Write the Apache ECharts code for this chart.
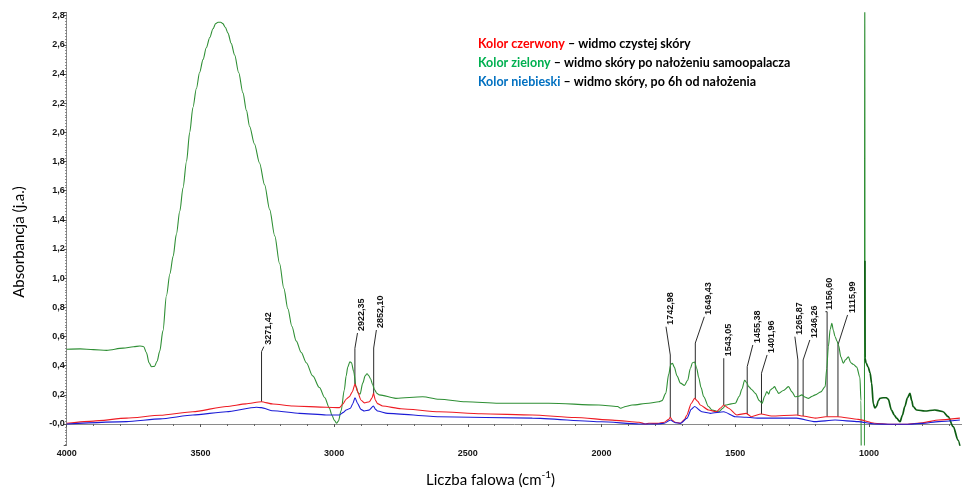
<!DOCTYPE html>
<html>
<head>
<meta charset="utf-8">
<script src="https://cdn.jsdelivr.net/npm/echarts@6/dist/echarts.min.js"></script>
<style>
  html, body { margin: 0; padding: 0; background: #ffffff; }
  #chart { width: 962px; height: 491px; }
</style>
</head>
<body>
<div id="chart"></div>
<script>
// FTIR spectra: [wavenumber (cm-1), absorbance]
const redSpectrum = [
  [4000,0.005],[3900,0.02],[3776,0.04],[3650,0.06],[3528,0.084],[3403,0.12],[3330,0.138],[3272,0.153],
  [3229,0.137],[3154,0.123],[3030,0.115],[2980,0.112],[2968,0.135],[2955,0.17],[2943,0.187],[2932,0.22],
  [2922,0.274],[2912,0.22],[2900,0.165],[2887,0.145],[2868,0.153],[2858,0.18],[2853,0.21],[2846,0.165],
  [2838,0.14],[2819,0.123],[2750,0.105],[2607,0.084],[2450,0.07],[2259,0.062],[2100,0.045],[1950,0.025],
  [1860,0.012],[1835,0.0],[1823,0.005],[1790,0.004],[1765,0.012],[1750,0.03],[1743,0.046],[1735,0.025],
  [1725,0.012],[1705,0.005],[1690,0.03],[1681,0.062],[1665,0.14],[1652,0.176],[1640,0.155],[1631,0.13],
  [1600,0.096],[1570,0.084],[1555,0.11],[1543,0.13],[1525,0.108],[1494,0.062],[1459,0.073],[1440,0.05],
  [1403,0.069],[1365,0.055],[1271,0.062],[1249,0.055],[1201,0.04],[1162,0.05],[1118,0.05],[1040,0.032],
  [980,0.005],[920,-0.002],[860,-0.002],[800,0.009],[740,0.027],[660,0.04]
];

const blueSpectrum = [
  [4000,0.0],[3776,0.016],[3650,0.035],[3528,0.062],[3403,0.084],[3291,0.115],[3272,0.112],[3229,0.091],
  [3129,0.073],[3030,0.062],[2980,0.062],[2965,0.08],[2955,0.096],[2939,0.108],[2930,0.14],[2922,0.18],
  [2912,0.14],[2900,0.1],[2887,0.089],[2870,0.095],[2853,0.123],[2845,0.1],[2838,0.089],[2800,0.073],
  [2607,0.05],[2259,0.04],[2000,0.015],[1860,0.0],[1823,0.0],[1790,0.0],[1765,0.005],[1743,0.027],
  [1725,0.009],[1705,0.004],[1680,0.04],[1665,0.1],[1652,0.12],[1625,0.084],[1593,0.073],[1543,0.084],
  [1500,0.05],[1459,0.046],[1413,0.04],[1271,0.04],[1201,0.016],[1127,0.027],[1040,0.016],[980,0.0],
  [920,-0.002],[860,-0.002],[800,0.004],[740,0.016],[660,0.027]
];

const greenSpectrum = [
  [4000,0.512],[3950,0.515],[3900,0.51],[3851,0.505],[3789,0.52],[3750,0.53],[3726,0.535],[3712,0.53],
  [3702,0.49],[3692,0.42],[3683,0.393],[3672,0.395],[3662,0.43],[3652,0.5],[3640,0.64],[3627,0.88],
  [3614,1.03],[3602,1.15],[3590,1.3],[3577,1.46],[3565,1.62],[3552,1.8],[3540,2.0],[3528,2.17],
  [3515,2.3],[3503,2.41],[3490,2.5],[3478,2.58],[3465,2.65],[3453,2.71],[3443,2.745],[3434,2.755],
  [3424,2.755],[3416,2.745],[3407,2.72],[3397,2.68],[3385,2.61],[3372,2.53],[3357,2.41],[3341,2.27],
  [3328,2.15],[3316,2.04],[3298,1.92],[3279,1.79],[3260,1.64],[3241,1.47],[3222,1.29],[3204,1.1],
  [3188,0.93],[3173,0.79],[3158,0.67],[3142,0.57],[3123,0.49],[3104,0.42],[3080,0.33],[3055,0.25],
  [3035,0.18],[3018,0.11],[3008,0.06],[2999,0.025],[2991,0.005],[2984,0.02],[2974,0.09],[2962,0.233],
  [2955,0.33],[2949,0.39],[2941,0.427],[2935,0.42],[2927,0.36],[2918,0.256],[2909,0.21],[2903,0.205],
  [2893,0.28],[2884,0.33],[2877,0.345],[2870,0.33],[2864,0.31],[2856,0.27],[2849,0.235],[2840,0.21],
  [2831,0.2],[2769,0.176],[2669,0.187],[2607,0.17],[2507,0.153],[2383,0.142],[2197,0.142],[2010,0.13],
  [1940,0.12],[1929,0.108],[1910,0.12],[1886,0.13],[1824,0.142],[1786,0.153],[1774,0.16],[1760,0.21],
  [1749,0.34],[1741,0.41],[1735,0.416],[1728,0.39],[1718,0.33],[1705,0.28],[1690,0.265],[1678,0.3],
  [1668,0.38],[1660,0.42],[1652,0.425],[1644,0.38],[1637,0.32],[1628,0.25],[1618,0.187],[1600,0.12],
  [1587,0.096],[1562,0.084],[1545,0.11],[1537,0.13],[1515,0.138],[1500,0.142],[1485,0.19],[1475,0.24],
  [1465,0.3],[1458,0.285],[1450,0.256],[1438,0.235],[1425,0.21],[1410,0.16],[1400,0.142],[1390,0.19],
  [1382,0.222],[1375,0.205],[1369,0.233],[1360,0.245],[1353,0.256],[1345,0.23],[1338,0.21],[1320,0.23],
  [1301,0.256],[1288,0.22],[1276,0.187],[1262,0.19],[1251,0.2],[1240,0.185],[1226,0.176],[1212,0.19],
  [1201,0.2],[1180,0.22],[1164,0.256],[1158,0.38],[1152,0.53],[1145,0.65],[1139,0.69],[1133,0.64],
  [1127,0.6],[1120,0.57],[1114,0.54],[1105,0.46],[1096,0.416],[1088,0.44],[1077,0.46],[1068,0.42],
  [1059,0.41],[1046,0.39],[1034,0.32],[1030,0.16],[1028,-0.6],[1017,-0.6],[1016,3.5],[1015,1.12]
];

// low-wavenumber end of the green spectrum (drawn heavier)
const greenSpectrumTail = [
  [1015,1.12],[1014.5,0.45],[1011,0.42],[1003,0.39],[996,0.35],[990,0.28],[984,0.14],[978,0.11],
  [972,0.12],[965,0.16],[959,0.176],[947,0.18],[935,0.18],[928,0.17],[916,0.096],[905,0.06],[897,0.04],
  [884,0.016],[875,0.06],[866,0.12],[856,0.18],[847,0.21],[840,0.16],[835,0.12],[822,0.096],[791,0.089],
  [754,0.096],[737,0.09],[723,0.084],[704,0.05],[685,-0.018],[667,-0.11],[655,-0.2]
];

// annotated band positions (cm-1)
const peakWavenumbers = [3271.42, 2922.35, 2852.10, 1742.98, 1649.43, 1543.05, 1455.38, 1401.96, 1265.87, 1246.26, 1156.60, 1115.99];

const legendLines = [
  { key: 'Kolor czerwony', desc: ' – widmo czystej skóry', color: '#ff0000' },
  { key: 'Kolor zielony', desc: ' – widmo skóry po nałożeniu samoopalacza', color: '#00b050' },
  { key: 'Kolor niebieski', desc: ' – widmo skóry, po 6h od nałożenia', color: '#0070c0' }
];

const yAxisTitle = 'Absorbancja (j.a.)';
const xAxisTitle = 'Liczba falowa (cm';
const xAxisTitleSup = '-1';

// leader-line layout: absorbance where the leader bends, then pixel offset to its tip
const leaderKnee = [0.496, 0.519, 0.521, 0.473, 0.555, 0.451, 0.393, 0.348, 0.439, 0.439, 0.770, 0.542];
const leaderTip = [[2.3,-5],[2.6,-15.3],[2.7,-18],[-4.3,-28.3],[9,-26.3],[0,0],[5.6,-21.7],[5.6,-18.3],[-3,-23.3],[6.7,-20],[-1.7,0],[9.6,-30]];

function valueAt(spectrum, wn) {
  for (let i = 0; i < spectrum.length - 1; i++) {
    const a = spectrum[i], b = spectrum[i + 1];
    if (wn <= a[0] && wn >= b[0]) {
      const t = (a[0] - wn) / (a[0] - b[0]);
      return a[1] + t * (b[1] - a[1]);
    }
  }
  return 0;
}

const peakData = peakWavenumbers.map(w => [w, valueAt(redSpectrum, w)]);

function renderPeak(params, api) {
  const i = params.dataIndex;
  const wn = api.value(0);
  const base = api.coord([wn, api.value(1)]);
  const knee = api.coord([wn, leaderKnee[i]]);
  const tip = [knee[0] + leaderTip[i][0], knee[1] + leaderTip[i][1]];
  return {
    type: 'group',
    children: [
      {
        type: 'polyline',
        shape: { points: [base, knee, tip] },
        style: { stroke: '#2b2b2b', lineWidth: 1, fill: 'none' }
      },
      {
        type: 'text',
        x: tip[0] + 4.5,
        y: tip[1] - 2,
        rotation: Math.PI / 2,
        style: {
          text: wn.toFixed(2).replace('.', ','),
          font: 'bold 9px "Liberation Sans", Arial, sans-serif',
          fill: '#111111',
          align: 'left',
          verticalAlign: 'middle'
        }
      }
    ]
  };
}

function yLabel(v) {
  if (Math.abs(v - Math.round(v * 5) / 5) > 1e-6) return '';
  const r = Math.round(v * 10) / 10;
  return r === 0 ? '-0,0' : r.toFixed(1).replace('.', ',');
}

function xLabel(v) {
  return String(Math.round(v));
}

const legendTitles = legendLines.map((l, i) => ({
  left: 478,
  top: 37 + i * 19,
  padding: 0,
  text: '{k|' + l.key + '}{d|' + l.desc + '}',
  textStyle: {
    rich: {
      k: { fontFamily: 'Lato', fontWeight: 'bold', fontSize: 12.5, color: l.color },
      d: { fontFamily: 'Lato', fontWeight: 'bold', fontSize: 12.5, color: '#000000' }
    }
  }
}));

const tickFont = { fontFamily: '"Liberation Sans", Arial, sans-serif', fontWeight: 'bold', fontSize: 9, color: '#161616' };

const chart = echarts.init(document.getElementById('chart'), null, { renderer: 'canvas' });
chart.setOption({
  animation: false,
  backgroundColor: '#ffffff',
  title: legendTitles.concat([{
    left: 426,
    top: 470,
    padding: 0,
    text: '{a|' + xAxisTitle + '}{s|' + xAxisTitleSup + '}{a|)}',
    textStyle: {
      rich: {
        a: { fontFamily: 'Lato', fontWeight: 'normal', fontSize: 15, color: '#000000', lineHeight: 20 },
        s: { fontFamily: 'Lato', fontWeight: 'normal', fontSize: 10, color: '#000000', lineHeight: 10, verticalAlign: 'top' }
      }
    }
  }]),
  graphic: [{
    type: 'text',
    x: 19,
    y: 242,
    rotation: Math.PI / 2,
    style: {
      text: yAxisTitle,
      font: '15px Lato',
      fill: '#000000',
      align: 'center',
      verticalAlign: 'middle'
    }
  }],
  grid: { left: 66.7, top: 12.7, width: 936, height: 432.3, containLabel: false, outerBoundsMode: 'none' },
  xAxis: {
    type: 'value',
    inverse: true,
    min: 500,
    max: 4000,
    interval: 500,
    axisLine: { show: true, lineStyle: { color: '#8a8a8a', width: 1 } },
    axisTick: { show: true, length: 3, lineStyle: { color: '#555555' } },
    minorTick: { show: true, splitNumber: 5, length: 2, lineStyle: { color: '#666666' } },
    axisLabel: Object.assign({ margin: 4, formatter: xLabel }, tickFont),
    splitLine: { show: false },
    minorSplitLine: { show: false }
  },
  yAxis: {
    type: 'value',
    min: -0.144,
    max: 2.82,
    splitNumber: 14,
    axisLine: { show: true, lineStyle: { color: '#8a8a8a', width: 1 } },
    axisTick: { show: true, length: 3, lineStyle: { color: '#555555' } },
    minorTick: { show: true, splitNumber: 10, length: 1.5, lineStyle: { color: '#777777' } },
    axisLabel: Object.assign({ margin: 2, showMinLabel: false, showMaxLabel: false, formatter: yLabel }, tickFont),
    splitLine: { show: false },
    minorSplitLine: { show: false }
  },
  series: [
    {
      type: 'custom',
      name: 'pasma',
      coordinateSystem: 'cartesian2d',
      data: peakData,
      encode: { x: 0, y: 1 },
      renderItem: renderPeak,
      z: 1,
      silent: true
    },
    {
      type: 'line', name: 'zielony', data: greenSpectrum, showSymbol: false, symbol: 'none',
      smooth: 0.3, smoothMonotone: 'x',
      lineStyle: { color: '#2f8f35', width: 1.1 }, z: 2
    },
    {
      type: 'line', name: 'zielony (koniec)', data: greenSpectrumTail, showSymbol: false, symbol: 'none',
      smooth: 0.3, smoothMonotone: 'x',
      lineStyle: { color: '#0c5d12', width: 1.7 }, z: 2
    },
    {
      type: 'line', name: 'czerwony', data: redSpectrum, showSymbol: false, symbol: 'none',
      smooth: 0.2, smoothMonotone: 'x',
      lineStyle: { color: '#ee1c24', width: 1.1 }, z: 3
    },
    {
      type: 'line', name: 'niebieski', data: blueSpectrum, showSymbol: false, symbol: 'none',
      smooth: 0.2, smoothMonotone: 'x',
      lineStyle: { color: '#1c1cd6', width: 1.1 }, z: 4
    }
  ]
});
</script>
</body>
</html>
